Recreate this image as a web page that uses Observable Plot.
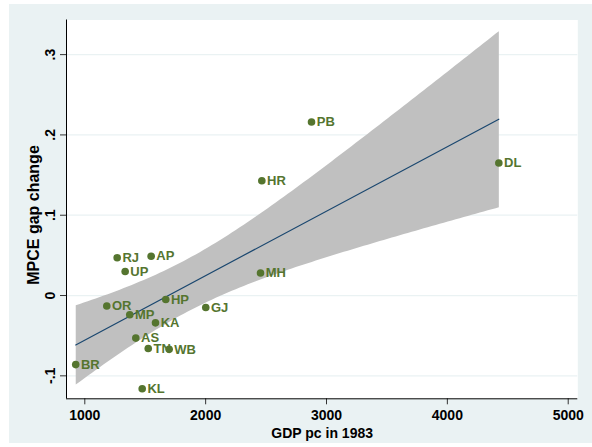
<!DOCTYPE html>
<html><head><meta charset="utf-8">
<script src="https://cdn.jsdelivr.net/npm/d3@7"></script>
<script src="https://cdn.jsdelivr.net/npm/@observablehq/plot@0.6"></script>
<style>
body{margin:0;background:#fff;}
#wrap{position:relative;width:592px;height:447px;overflow:hidden;}
#bg{position:absolute;left:9px;top:4px;width:583px;height:439px;background:#EAF2F3;}
#chart{position:absolute;left:0;top:0;}
</style></head><body>
<div id="wrap"><div id="bg"></div><div id="chart"></div></div>
<script>
const states = ["BR","KL","OR","MP","RJ","UP","AP","HP","KA","AS","TN","WB","GJ","MH","HR","PB","DL"];
const gdp = [925, 1475, 1182, 1372, 1268, 1334, 1549, 1670, 1585, 1422, 1525, 1698, 2001, 2454, 2465, 2876, 4426];
const gap = [-0.086, -0.116, -0.013, -0.024, 0.047, 0.030, 0.049, -0.005, -0.034, -0.053, -0.066, -0.067, -0.015, 0.028, 0.143, 0.216, 0.165];
const xTicks = [1000, 2000, 3000, 4000, 5000];
const yTicks = [-0.1, 0, 0.1, 0.2, 0.3];
const xDomain = [848.6, 5079.4];
const yDomain = [-0.1286, 0.3431];
const xTitle = "GDP pc in 1983";
const yTitle = "MPCE gap change";

const data = states.map((s, i) => ({state: s, gdp: gdp[i], gap: gap[i]}));
const fmtY = d => d === 0 ? "0" : (d < 0 ? "-" : "") + String(Math.abs(d)).replace(/^0/, "");
const green = "#55752F";
const font = "'Liberation Sans', Arial, sans-serif";

const chart = Plot.plot({
  width: 592, height: 447,
  marginLeft: 66, marginRight: 14.7, marginTop: 19.5, marginBottom: 48.7,
  style: {background: "transparent", fontFamily: font},
  x: {domain: xDomain},
  y: {domain: yDomain},
  marks: [
    Plot.frame({fill: "white", stroke: "none"}),
    Plot.gridY(yTicks, {stroke: "#EAF2F3", strokeOpacity: 1, strokeWidth: 1.2}),
    Plot.linearRegressionY(data, {x: "gdp", y: "gap", ci: 0.95, fill: "#C0C0C0", fillOpacity: 1, stroke: "#1A476F", strokeWidth: 1.2}),
    Plot.dot(data, {x: "gdp", y: "gap", r: 3.8, fill: green, stroke: "none"}),
    Plot.text(data, {x: "gdp", y: "gap", text: "state", dx: 5.2, textAnchor: "start", fill: green, fontSize: 13, fontWeight: "bold"}),
    Plot.axisX(xTicks, {tickSize: 6, tickPadding: 5, fontSize: 14, fontWeight: "bold", fill: "black", stroke: "#333", label: null, tickFormat: d => String(d)}),
    Plot.axisY(yTicks, {tickSize: 6, tickPadding: 6, tickRotate: -90, fontSize: 14, fontWeight: "bold", fill: "black", stroke: "#333", label: null, tickFormat: fmtY}),
    Plot.ruleX([xDomain[0]], {stroke: "black", strokeWidth: 1}),
    Plot.ruleY([yDomain[0]], {stroke: "black", strokeWidth: 1}),
    Plot.text([xTitle], {frameAnchor: "bottom", lineAnchor: "bottom", dy: 39.2, fontSize: 14, fontWeight: "bold", fill: "black"}),
    Plot.text([yTitle], {frameAnchor: "left", rotate: -90, textAnchor: "middle", lineAnchor: "bottom", dx: -27.5, dy: 5.6, fontSize: 16, fontWeight: "bold", fill: "black"})
  ]
});
document.getElementById("chart").appendChild(chart);
</script>
</body></html>
